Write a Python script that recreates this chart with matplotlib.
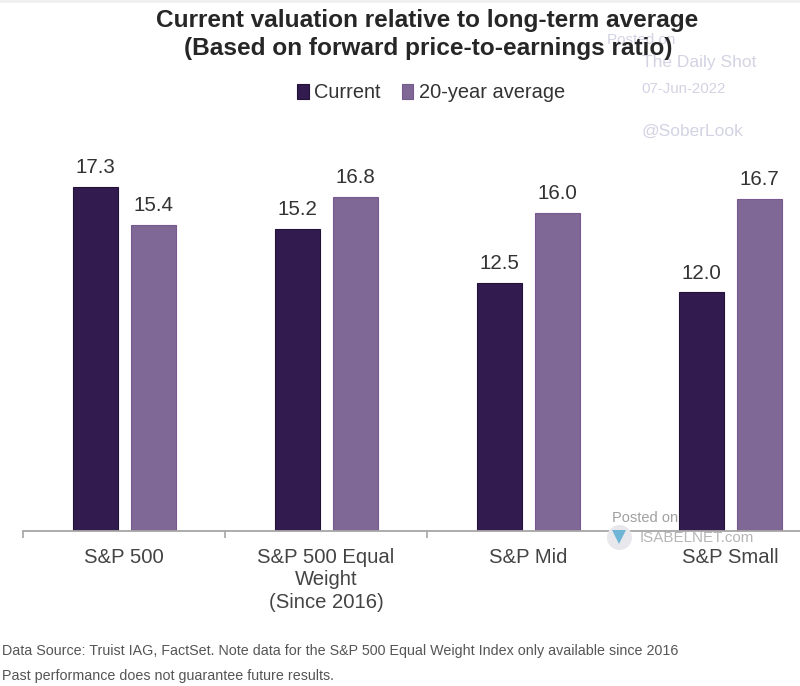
import matplotlib
matplotlib.use("Agg")
import matplotlib.pyplot as plt
import numpy as np
from matplotlib.patches import Rectangle

plt.rcParams['font.family'] = ['Liberation Sans', 'DejaVu Sans']

categories = ['S&P 500', 'S&P 500 Equal\nWeight\n(Since 2016)', 'S&P Mid', 'S&P Small']
current = [17.3, 15.2, 12.5, 12.0]
average = [15.4, 16.8, 16.0, 16.7]

W, H = 800, 686
fig = plt.figure(figsize=(W / 100, H / 100), dpi=100)
# light strip along the top edge of the screenshot
fig.patches.append(Rectangle((0, 1 - 3 / H), 1, 3 / H, transform=fig.transFigure, color='#f0f0f0', lw=0))
# axes box in pixels: x 23-800, baseline at y=531
ax = fig.add_axes([23 / W, 1 - 531 / H, 777 / W, 391 / H])
ax.patch.set_alpha(0)

x = np.arange(len(categories))
bw = 45 / 202
off = 29 / 202
b1 = ax.bar(x - off, current, bw, color='#321c4f', edgecolor='#241238', linewidth=0.8, label='Current')
b2 = ax.bar(x + off, average, bw, color='#7f6895', edgecolor='#75598f', linewidth=0.8, label='20-year average')

for bars in (b1, b2):
    for r in bars:
        ax.annotate('%.1f' % r.get_height(), (r.get_x() + r.get_width() / 2, r.get_height()),
                    xytext=(0.5, 7), textcoords='offset points', ha='center', va='bottom',
                    fontsize=14.8, color='#333333')

ax.set_xlim(-0.5, -0.5 + 777 / 202)
ax.set_ylim(0, 391 / 19.88)
ax.set_yticks([])
for s in ('top', 'left', 'right'):
    ax.spines[s].set_visible(False)
ax.spines['bottom'].set_color('#a6a6a6')
ax.spines['bottom'].set_linewidth(1.3)

# boundary ticks between the categories
ax.set_xticks(np.arange(len(categories)) - 0.5)
ax.set_xticklabels([])
ax.tick_params(axis='x', length=5, width=1.2, color='#a6a6a6', direction='out')
ax.set_xticks(x, minor=True)
ax.set_xticklabels(categories, minor=True, fontsize=14.6, color='#444444', linespacing=1.25)
ax.tick_params(axis='x', which='minor', length=0, pad=12)

# watermarks
wm = '#d3d3e3'
fig.text(607 / W, 1 - 40 / H, 'Posted on', fontsize=11, color=wm, va='center')
fig.text(642 / W, 1 - 63 / H, 'The Daily Shot', fontsize=12.5, color=wm, va='center')
fig.text(641 / W, 1 - 89 / H, '07-Jun-2022', fontsize=10.8, color=wm, va='center')
fig.text(642 / W, 1 - 131 / H, '@SoberLook', fontsize=12.5, color=wm, va='center')
fig.text(612 / W, 1 - 518 / H, 'Posted on', fontsize=10.5, color='#a0a0a0', va='center')
fig.text(640 / W, 1 - 538 / H, 'ISABELNET.com', fontsize=10.9, color='#b5b5b5', va='center', zorder=5)
ax.plot([619 / W], [1 - 537 / H], 'o', transform=fig.transFigure, ms=18, color='#e8e8ec', mew=0, clip_on=False, zorder=5)
ax.plot([619 / W], [1 - 537 / H], 'v', transform=fig.transFigure, ms=10, color='#6fb5d6', mew=0, clip_on=False, zorder=6)

fig.text(427 / W, 1 - 20 / H, 'Current valuation relative to long-term average', ha='center', va='center',
         fontsize=17.6, fontweight='bold', color='#262626')
fig.text(428 / W, 1 - 49 / H, '(Based on forward price-to-earnings ratio)', ha='center', va='center',
         fontsize=17.6, fontweight='bold', color='#262626')

leg = ax.legend(loc='center', bbox_to_anchor=(431 / W, 1 - 93 / H), bbox_transform=fig.transFigure,
                ncol=2, frameon=False, fontsize=14.4, handlelength=0.58, handleheight=0.8,
                handletextpad=0.28, columnspacing=1.05, labelcolor='#333333')

fig.text(2 / W, 1 - 651 / H, 'Data Source: Truist IAG, FactSet. Note data for the S&P 500 Equal Weight Index only available since 2016',
         fontsize=10.26, color='#555555', va='center')
fig.text(2 / W, 1 - 676 / H, 'Past performance does not guarantee future results.',
         fontsize=10.26, color='#555555', va='center')

fig.savefig('out.png', dpi=100)
